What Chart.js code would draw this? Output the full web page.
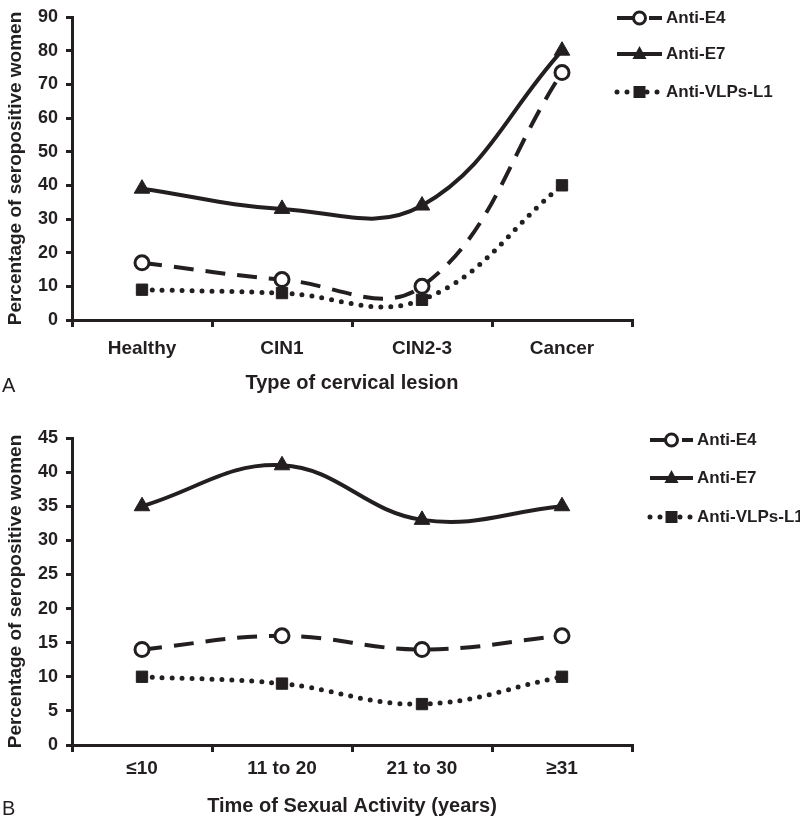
<!DOCTYPE html>
<html>
<head>
<meta charset="utf-8">
<script src="https://cdn.jsdelivr.net/npm/chart.js@4"></script>
<style>
  body { margin: 0; background: #fff; width: 800px; height: 820px; position: relative; overflow: hidden; }
  .panel { position: absolute; left: 0; width: 800px; height: 400px; }
  .tag { position: absolute; left: 2px; font: 20px "Liberation Sans", Arial, sans-serif; color: #231f20; }
</style>
</head>
<body>
<div class="panel" style="top:0"><canvas id="lesionChart" width="800" height="400"></canvas></div>
<div class="panel" style="top:420px"><canvas id="activityChart" width="800" height="400"></canvas></div>
<div class="tag" style="top:374px">A</div>
<div class="tag" style="top:797px">B</div>
<script>
// panel A
const lesionLabels = ['Healthy', 'CIN1', 'CIN2-3', 'Cancer'];
const lesionE4 = [17, 12, 10, 73.5];
const lesionE7 = [39, 33, 34, 80];
const lesionL1 = [9, 8, 6, 40];

// panel B
const activityLabels = ['≤10', '11 to 20', '21 to 30', '≥31'];
const activityE4 = [14, 16, 14, 16];
const activityE7 = [35, 41, 33, 35];
const activityL1 = [10, 9, 6, 10];

const seriesNames = ['Anti-E4', 'Anti-E7', 'Anti-VLPs-L1'];

const ink = '#231f20';
const font = '"Liberation Sans", Arial, sans-serif';

function makeDatasets(e4, e7, l1) {
    return [
        {
            label: seriesNames[0], data: e4,
            borderColor: ink, borderWidth: 4, borderDash: [20, 12],
            pointStyle: 'circle', pointRadius: 7, pointBorderWidth: 3,
            pointBackgroundColor: '#fff', pointBorderColor: ink
        },
        {
            label: seriesNames[1], data: e7,
            borderColor: ink, borderWidth: 4,
            pointStyle: 'triangle', pointRadius: 9, pointBorderWidth: 1,
            pointBackgroundColor: ink, pointBorderColor: ink
        },
        {
            label: seriesNames[2], data: l1,
            borderColor: ink, borderWidth: 5, borderDash: [0, 10], borderCapStyle: 'round',
            pointStyle: 'rect', pointRadius: 8, pointBorderWidth: 1,
            pointBackgroundColor: ink, pointBorderColor: ink
        }
    ];
}

function drawMarker(ctx, style, x, y) {
    ctx.save();
    ctx.setLineDash([]);
    ctx.fillStyle = ink;
    ctx.strokeStyle = ink;
    if (style === 'circle') {
        ctx.beginPath();
        ctx.arc(x, y, 6, 0, Math.PI * 2);
        ctx.fillStyle = '#fff';
        ctx.fill();
        ctx.lineWidth = 3;
        ctx.stroke();
    } else if (style === 'triangle') {
        ctx.beginPath();
        ctx.moveTo(x, y - 8);
        ctx.lineTo(x + 7, y + 5);
        ctx.lineTo(x - 7, y + 5);
        ctx.closePath();
        ctx.fill();
    } else {
        ctx.fillRect(x - 6, y - 6, 12, 12);
    }
    ctx.restore();
}

// excel-like legend: line sample with marker in the middle
const sideLegend = {
    id: 'sideLegend',
    afterDraw(chart, args, opts) {
        const ctx = chart.ctx;
        chart.data.datasets.forEach((ds, i) => {
            const y = opts.rows[i];
            ctx.save();
            ctx.strokeStyle = ink;
            ctx.lineWidth = ds.borderWidth;
            ctx.lineCap = ds.borderCapStyle || 'butt';
            ctx.setLineDash(ds.borderDash || []);
            ctx.beginPath();
            ctx.moveTo(opts.x0, y);
            ctx.lineTo(opts.x1, y);
            ctx.stroke();
            ctx.restore();
            drawMarker(ctx, ds.pointStyle, (opts.x0 + opts.x1) / 2, y);
            ctx.save();
            ctx.fillStyle = ink;
            ctx.font = 'bold 17px ' + font;
            ctx.textBaseline = 'middle';
            ctx.fillText(ds.label, opts.x1 + 4, y);
            ctx.restore();
        });
    }
};

function makeChart(id, labels, datasets, yMax, yStep, xTitle, top, xHeight, tickPad, titlePad, legend) {
    return new Chart(document.getElementById(id), {
        type: 'line',
        data: { labels: labels, datasets: datasets },
        plugins: [sideLegend],
        options: {
            responsive: false,
            animation: false,
            tension: 0.4,
            layout: { padding: { top: top, right: 168, left: 0, bottom: 0 } },
            plugins: {
                legend: { display: false },
                tooltip: { enabled: false },
                sideLegend: legend
            },
            scales: {
                x: {
                    offset: true,
                    afterFit: s => { s.height = xHeight; },
                    border: { display: true, color: ink, width: 3 },
                    grid: { offset: true, drawOnChartArea: false, drawTicks: true, tickLength: 7, color: ink, lineWidth: 3 },
                    ticks: { color: ink, padding: tickPad, font: { family: font, size: 19, weight: 'bold' } },
                    title: {
                        display: true, text: xTitle, color: ink,
                        font: { family: font, size: 20, weight: 'bold' },
                        padding: { top: 0, bottom: titlePad }
                    }
                },
                y: {
                    min: 0, max: yMax,
                    afterFit: s => { s.width = 72; },
                    border: { display: true, color: ink, width: 3 },
                    grid: { drawOnChartArea: false, drawTicks: true, tickLength: 6, color: ink, lineWidth: 3 },
                    ticks: { stepSize: yStep, color: ink, padding: 8, font: { family: font, size: 18, weight: 'bold', lineHeight: 1 } },
                    title: {
                        display: true, text: 'Percentage of seropositive women', color: ink,
                        font: { family: font, size: 19, weight: 'bold' },
                        padding: { top: 4, bottom: 0 }
                    }
                }
            }
        }
    });
}

const lesionChart = makeChart('lesionChart', lesionLabels,
    makeDatasets(lesionE4, lesionE7, lesionL1), 90, 10,
    'Type of cervical lesion', 8, 80, 10, 5,
    { x0: 617, x1: 662, rows: [18, 54, 92] });

const activityChart = makeChart('activityChart', activityLabels,
    makeDatasets(activityE4, activityE7, activityL1), 45, 5,
    'Time of Sexual Activity (years)', 18, 75, 5, 2,
    { x0: 650, x1: 693, rows: [20, 58, 97] });
</script>
</body>
</html>
